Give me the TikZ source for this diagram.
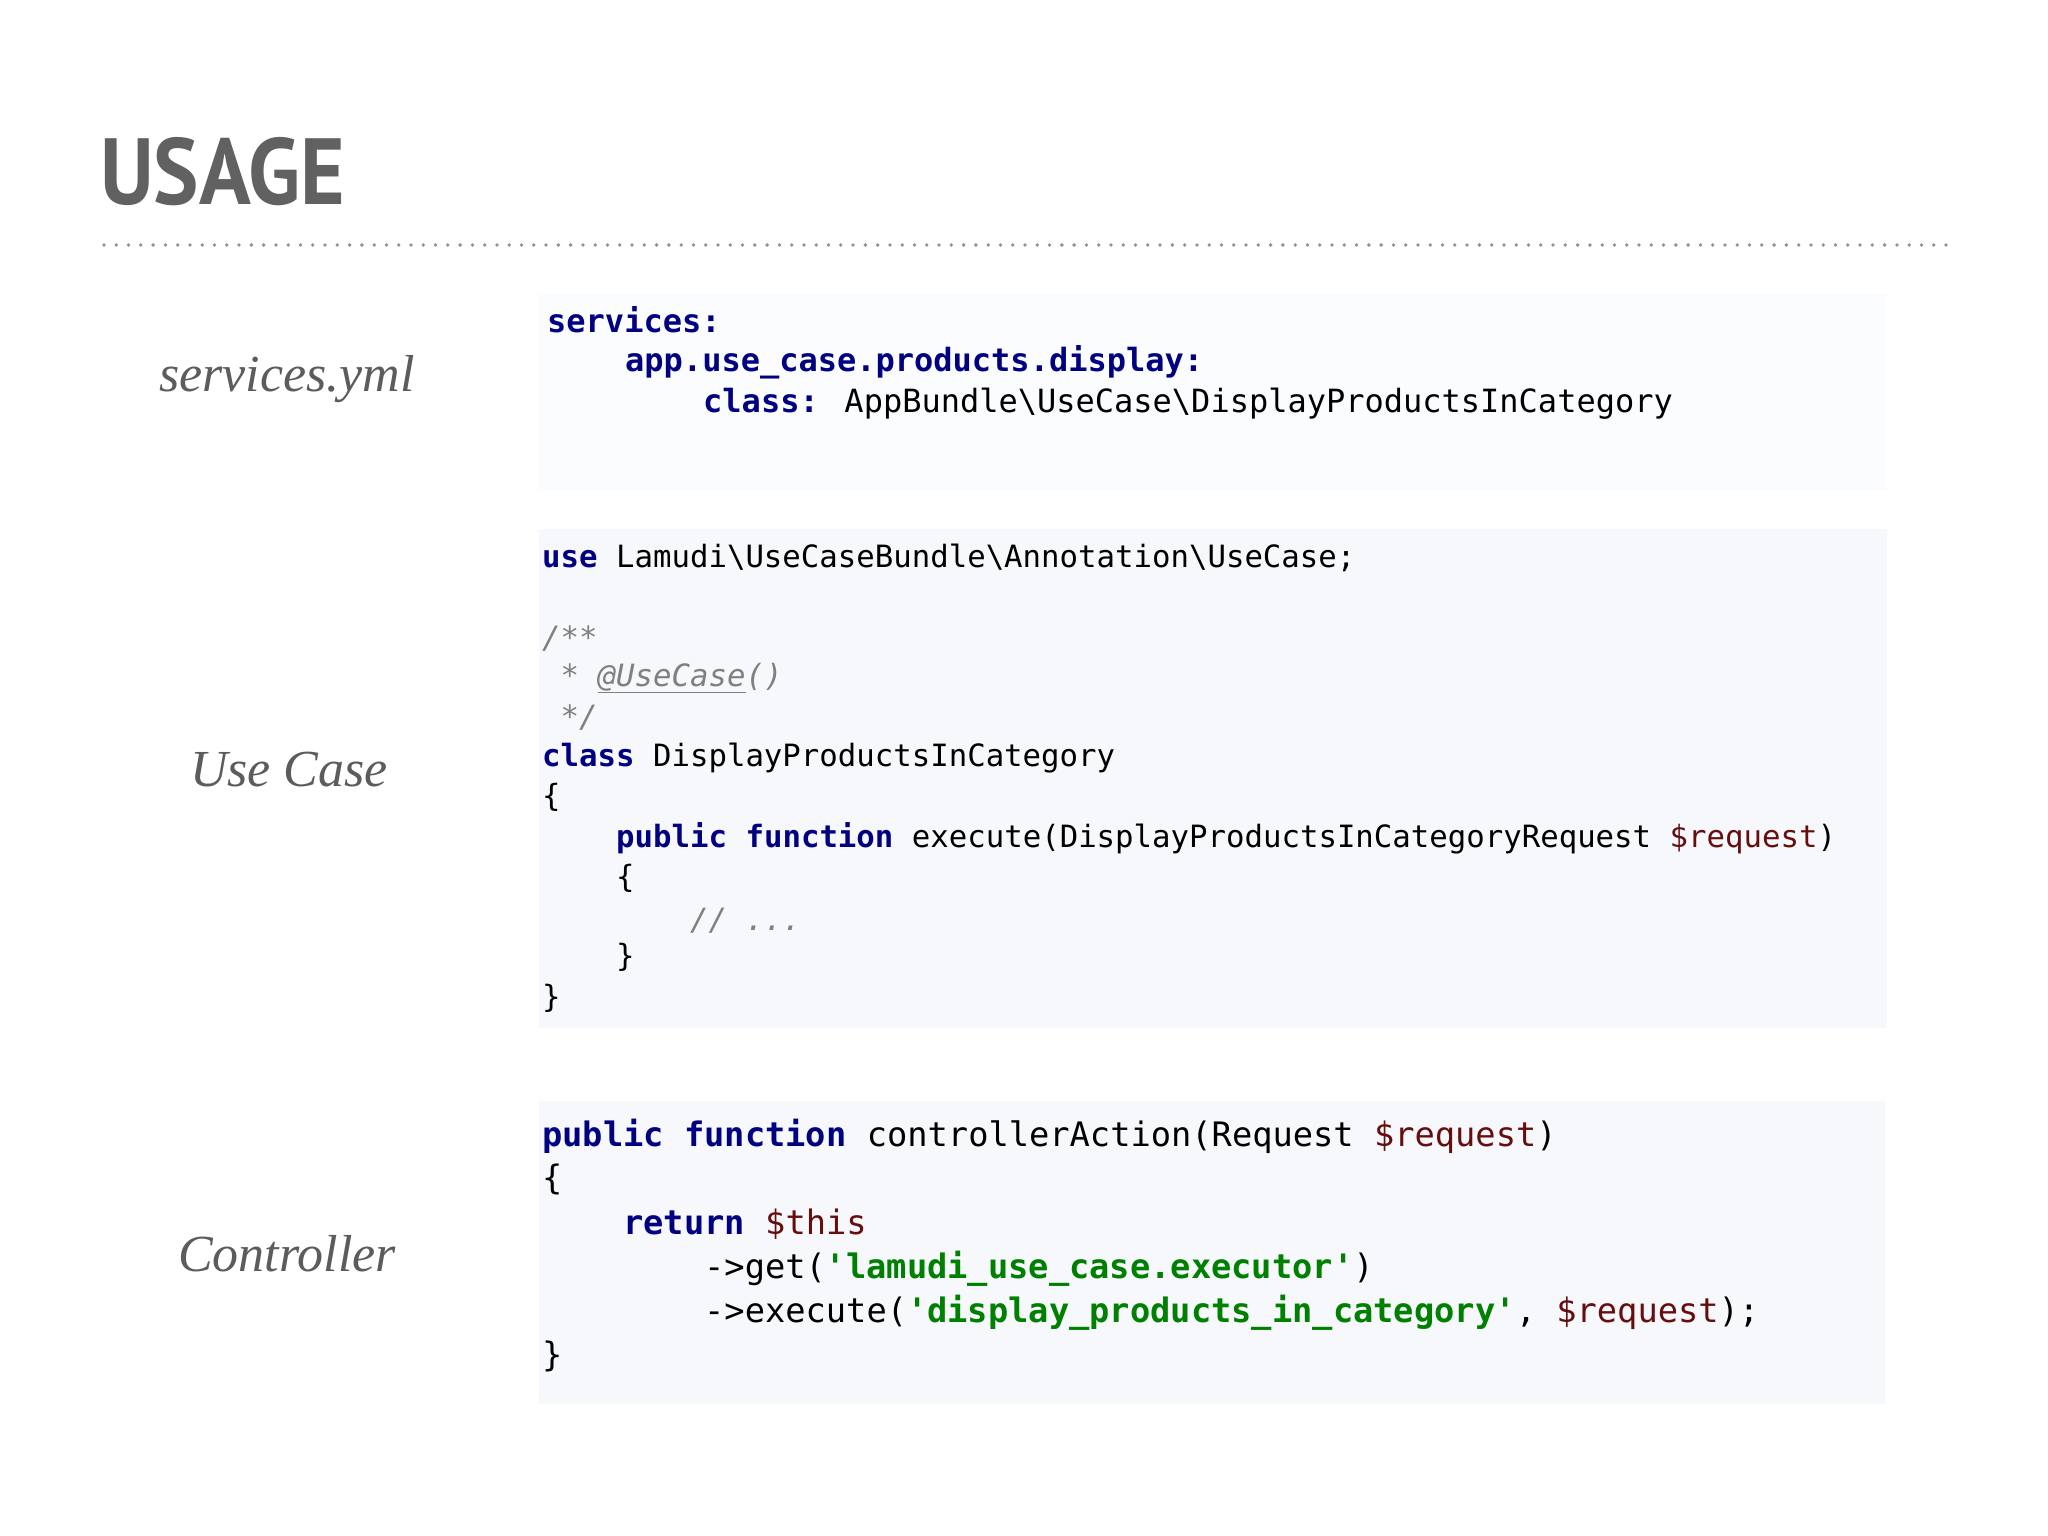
\documentclass[tikz,border=0pt]{standalone}
\usepackage{fontspec}
\setmainfont{Liberation Serif}
\newfontfamily\titlefont{PT Sans}
\newfontfamily\codefont{DejaVu Sans Mono}
\definecolor{kw}{HTML}{000080}
\definecolor{var}{HTML}{660E0E}
\definecolor{str}{HTML}{008000}
\definecolor{cmt}{HTML}{808080}
\definecolor{bg}{HTML}{F6F8FC}
\definecolor{lbl}{HTML}{5C5C5C}
\newcommand{\K}[1]{\textcolor{kw}{\bfseries #1}}
\newcommand{\V}[1]{\textcolor{var}{#1}}
\newcommand{\St}[1]{\textcolor{str}{\bfseries #1}}
\newcommand{\Cm}[1]{\textcolor{cmt}{\itshape #1}}
\newcommand{\bs}{\textbackslash}
\begin{document}
\begin{tikzpicture}[x=1pt,y=-1pt,
  lbl/.style={anchor=center,text=lbl,font=\fontsize{52}{60}\selectfont\itshape},
  ca/.style={anchor=west,inner sep=0pt,font=\codefont\fontsize{30.7}{36}\selectfont},
  cb/.style={anchor=west,inner sep=0pt,font=\codefont\fontsize{32}{38}\selectfont},
  cc/.style={anchor=west,inner sep=0pt,font=\codefont\fontsize{33.7}{40}\selectfont}]
\useasboundingbox (0,0) rectangle (2048,1536);
\fill[white] (0,0) rectangle (2048,1536);
\node[anchor=west,inner sep=0pt,text=black!62,font=\titlefont\bfseries\fontsize{94}{100}\selectfont,xscale=0.91] (title) at (100,172) {USAGE};
\foreach \i in {0,...,150} {\fill[cmt!85] ({104+12.28*\i},245) circle (1.9);}
% backgrounds
\fill[bg!40] (539,294) rectangle (1887,490);
\fill[bg] (539,529) rectangle (1887,1028);
\fill[bg] (539,1101) rectangle (1885,1404);
% labels
\node[lbl] (l1) at (287,379) {services.yml};
\node[lbl] (l2) at (289,770) {Use Case};
\node[lbl] (l3) at (287,1254) {Controller};
% block 1
\node[cb] (a1) at (547,320) {\K{services:}};
\node[cb] (a2) at (625,362) {\K{app.use\_case.products.display:}};
\node[cb] (a3) at (703,404) {\K{class:} AppBundle\bs UseCase\bs DisplayProductsInCategory};
% block 2
\node[ca] (b1) at (542,558) {\K{use} Lamudi\bs UseCaseBundle\bs Annotation\bs UseCase;};
\node[ca] (b2) at (542,639) {\Cm{/**}};
\node[ca] (b3) at (542,678) {\Cm{ * \underline{@UseCase}()}};
\node[ca] (b4) at (542,718) {\Cm{ */}};
\node[ca] (b5) at (542,758) {\K{class} DisplayProductsInCategory};
\node[ca] (b6) at (542,797) {\{};
\node[ca] (b7) at (616,838) {\K{public} \K{function} execute(DisplayProductsInCategoryRequest \V{\$request})};
\node[ca] (b8) at (616,878) {\{};
\node[ca] (b9) at (690,921) {\Cm{// ...}};
\node[ca] (b10) at (616,957) {\}};
\node[ca] (b11) at (542,998) {\}};
% block 3
\node[cc] (c1) at (542,1136) {\K{public} \K{function} controllerAction(Request \V{\$request})};
\node[cc] (c2) at (542,1179) {\{};
\node[cc] (c3) at (623,1224) {\K{return} \V{\$this}};
\node[cc] (c4) at (704,1269) {->get(\St{'lamudi\_use\_case.executor'})};
\node[cc] (c5) at (704,1313) {->execute(\St{'display\_products\_in\_category'}, \V{\$request});};
\node[cc] (c6) at (542,1356) {\}};
\end{tikzpicture}
\end{document}
